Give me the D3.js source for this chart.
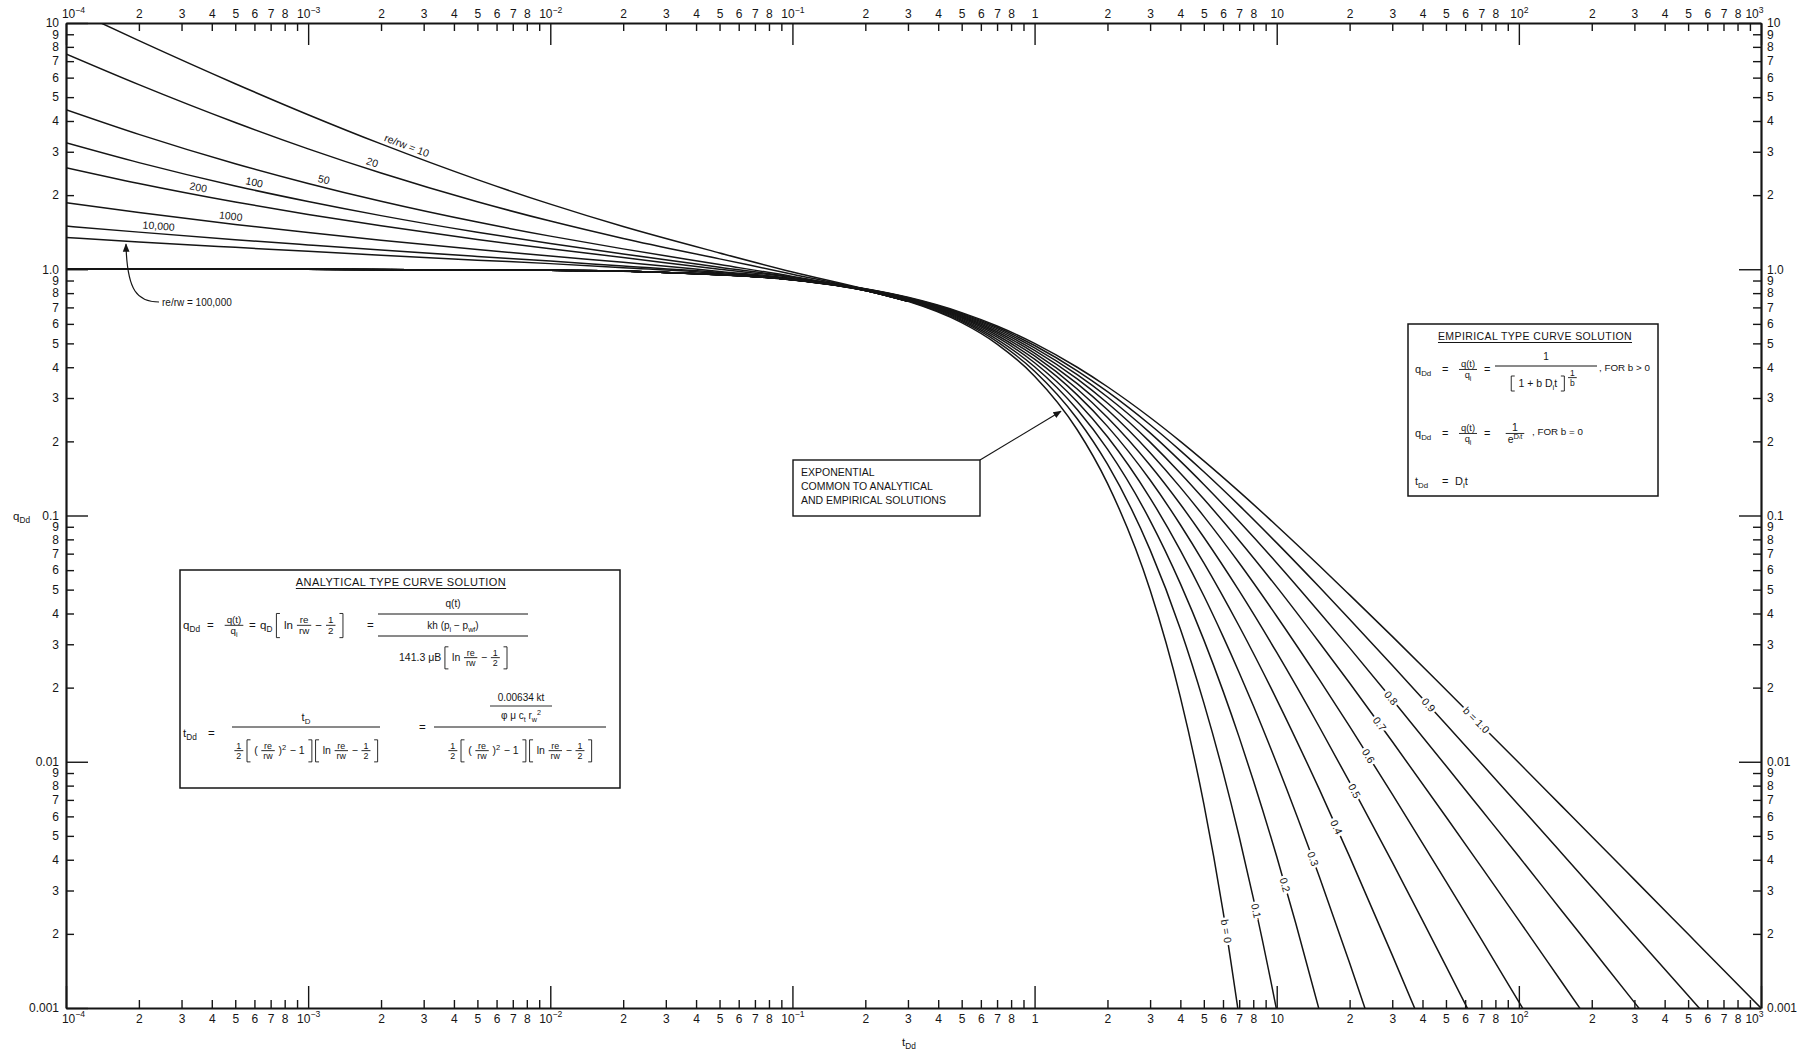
<!DOCTYPE html>
<html>
<head>
<meta charset="utf-8">
<script src="https://cdn.jsdelivr.net/npm/d3@7"></script>
<style>
  html, body { margin: 0; padding: 0; background: #fff; }
  svg { display: block; }
</style>
</head>
<body>
<svg id="chart" width="1797" height="1051"></svg>
<script>
// ---------------------------------------------------------------------------
// Decline type curves: transient (analytical) stems for several re/rw and
// Arps depletion stems for b = 0 ... 1, on log-log axes qDd versus tDd.
// ---------------------------------------------------------------------------

// Transient stems: qDd sampled at these tDd values
const stemTime = [1e-4, 2e-4, 5e-4, 1e-3, 2e-3, 5e-3, 0.01, 0.02, 0.05, 0.1, 0.2, 0.3];
const stemRe10     = [11.64, 8.480, 5.668, 4.243, 3.228, 2.312, 1.838, 1.491, 1.165, 0.975, 0.830, 0.745];
const stemRe20     = [7.488, 5.619, 3.944, 3.083, 2.459, 1.880, 1.569, 1.334, 1.102, 0.955, 0.825, 0.742];
const stemRe50     = [4.446, 3.530, 2.683, 2.231, 1.888, 1.554, 1.363, 1.210, 1.045, 0.935, 0.822, 0.741];
const stemRe100    = [3.263, 2.710, 2.179, 1.884, 1.651, 1.413, 1.272, 1.154, 1.020, 0.930, 0.821, 0.741];
const stemRe200    = [2.586, 2.231, 1.876, 1.669, 1.501, 1.321, 1.210, 1.116, 1.000, 0.925, 0.820, 0.741];
const stemRe1000   = [1.863, 1.699, 1.521, 1.409, 1.312, 1.203, 1.131, 1.067, 0.980, 0.918, 0.820, 0.741];
const stemRe10000  = [1.498, 1.415, 1.319, 1.255, 1.196, 1.127, 1.079, 1.030, 0.970, 0.912, 0.819, 0.741];
const stemRe100000 = [1.345, 1.291, 1.227, 1.182, 1.140, 1.089, 1.054, 1.015, 0.962, 0.908, 0.819, 0.741];
const stemNames = ["re/rw = 10", "20", "50", "100", "200", "1000", "10,000", "re/rw = 100,000"];
const stemLabelTime = [2.49e-3, 1.80e-3, 1.14e-3, 5.9e-4, 3.47e-4, 4.75e-4, 2.4e-4, null];

// Arps depletion stems: [tDd, qDd]
const arpsB00 = [[1e-4,0.9999],[0.001,0.999],[0.01,0.990],[0.03,0.970],[0.1,0.905],[0.2,0.819],[0.3,0.741],[0.5,0.607],[0.7,0.497],[1,0.368],[1.5,0.223],[2,0.135],[3,0.0498],[4,0.0183],[5,0.00674],[6,0.00248],[7,0.000912]];
const arpsB01 = [[1e-4,0.9999],[0.001,0.999],[0.01,0.990],[0.03,0.9705],[0.1,0.9053],[0.2,0.8203],[0.3,0.7441],[0.5,0.6139],[0.7,0.5083],[1,0.3855],[1.5,0.2472],[2,0.1615],[3,0.0725],[4,0.0346],[5,0.01734],[6,0.00910],[7,0.00496],[8,0.00280],[10,0.000977],[12,0.000377]];
const arpsB02 = [[1e-4,0.9999],[0.001,0.999],[0.01,0.990],[0.03,0.9705],[0.1,0.9057],[0.2,0.8219],[0.3,0.7473],[0.5,0.6209],[0.7,0.5194],[1,0.4019],[1.5,0.2693],[2,0.1859],[3,0.0954],[4,0.0529],[5,0.03125],[6,0.01940],[7,0.01256],[8,0.00841],[10,0.00412],[12,0.00220],[15,0.000977],[18,0.000486]];
const arpsB03 = [[1e-4,0.9999],[0.001,0.999],[0.01,0.990],[0.03,0.9706],[0.1,0.9062],[0.2,0.8235],[0.3,0.7503],[0.5,0.6276],[0.7,0.5297],[1,0.4171],[1.5,0.2898],[2,0.2087],[3,0.1177],[4,0.0722],[5,0.0472],[6,0.0323],[7,0.0230],[8,0.01692],[10,0.00984],[15,0.00341],[20,0.001524],[25,0.000798]];
const arpsB04 = [[1e-4,0.9999],[0.001,0.999],[0.01,0.990],[0.03,0.9706],[0.1,0.9066],[0.2,0.8250],[0.3,0.7533],[0.5,0.6339],[0.7,0.5395],[1,0.4312],[1.5,0.3088],[2,0.2301],[3,0.1393],[4,0.0917],[5,0.0642],[7,0.0355],[10,0.01789],[15,0.00772],[20,0.00412],[30,0.00164],[40,0.000839]];
const arpsB05 = [[1e-4,0.9999],[0.001,0.9995],[0.01,0.9901],[0.03,0.9707],[0.1,0.9070],[0.2,0.8264],[0.3,0.7561],[0.5,0.64],[0.7,0.5487],[1,0.4444],[1.5,0.3265],[2,0.25],[3,0.16],[4,0.1111],[5,0.0816],[7,0.0494],[10,0.02778],[15,0.01384],[20,0.00826],[30,0.00391],[40,0.002268],[50,0.001479],[70,0.000772]];
const arpsB06 = [[1e-4,0.9999],[0.001,0.999],[0.01,0.9901],[0.03,0.9707],[0.1,0.9074],[0.2,0.8279],[0.3,0.7589],[0.5,0.6458],[0.7,0.5574],[1,0.4569],[1.5,0.3431],[2,0.2687],[3,0.1798],[4,0.1301],[5,0.0992],[7,0.0641],[10,0.0390],[15,0.02154],[20,0.01392],[30,0.00739],[50,0.00327],[70,0.00190],[100,0.001059],[150,0.000544]];
const arpsB07 = [[1e-4,0.9999],[0.001,0.999],[0.01,0.9901],[0.03,0.9707],[0.1,0.9079],[0.2,0.8293],[0.3,0.7616],[0.5,0.6513],[0.7,0.5657],[1,0.4686],[1.5,0.3586],[2,0.2863],[3,0.1986],[4,0.1485],[5,0.1166],[7,0.0792],[10,0.0513],[15,0.0305],[20,0.02089],[30,0.01208],[50,0.00598],[70,0.00374],[100,0.00227],[150,0.001278],[200,0.000850]];
const arpsB08 = [[1e-4,0.9999],[0.001,0.999],[0.01,0.9901],[0.03,0.9708],[0.1,0.9083],[0.2,0.8307],[0.3,0.7642],[0.5,0.6567],[0.7,0.5736],[1,0.4797],[1.5,0.3732],[2,0.3029],[3,0.2166],[4,0.1663],[5,0.1337],[7,0.0945],[10,0.0642],[15,0.0405],[20,0.0290],[30,0.01789],[50,0.00963],[70,0.00638],[100,0.00412],[150,0.00249],[200,0.001743],[300,0.001054],[400,0.000736]];
const arpsB09 = [[1e-4,0.9999],[0.001,0.999],[0.01,0.9901],[0.03,0.9708],[0.1,0.9087],[0.2,0.8320],[0.3,0.7668],[0.5,0.6618],[0.7,0.5811],[1,0.4901],[1.5,0.3870],[2,0.3185],[3,0.2337],[4,0.1835],[5,0.1505],[7,0.1099],[10,0.0774],[15,0.0512],[20,0.0379],[30,0.02466],[50,0.01420],[70,0.00984],[100,0.00666],[150,0.00426],[200,0.00310],[300,0.001980],[500,0.001124],[700,0.000773]];
const arpsB10 = [[1e-4,0.9999],[0.001,0.999],[0.01,0.9901],[0.03,0.9709],[0.1,0.9091],[0.2,0.8333],[0.3,0.7692],[0.5,0.6667],[0.7,0.5882],[1,0.5],[1.5,0.4],[2,0.3333],[3,0.25],[4,0.2],[5,0.1667],[7,0.125],[10,0.0909],[15,0.0625],[20,0.0476],[30,0.0323],[50,0.0196],[70,0.01408],[100,0.0099],[150,0.00662],[200,0.004975],[300,0.003322],[500,0.001996],[700,0.001427],[1000,0.000999]];
const bNames  = ["b = 0", "0.1", "0.2", "0.3", "0.4", "0.5", "0.6", "0.7", "0.8", "0.9", "b = 1.0"];
// qDd level where each b label sits on its curve
const bLabelQ = [0.00205, 0.00248, 0.00316, 0.00403, 0.00543, 0.00761, 0.01055, 0.01423, 0.01815, 0.0170, 0.01477];

// Axis tick text
const xDecadeText = ["10^{\u22124}", "10^{\u22123}", "10^{\u22122}", "10^{\u22121}", "1", "10", "10^{2}", "10^{3}"];
const yDecadeText = ["0.001", "0.01", "0.1", "1.0", "10"];

// ---------------------------------------------------------------------------
const FONT = "'Liberation Sans', Arial, Helvetica, sans-serif";
const ink = "#151515";
const svg = d3.select("#chart").attr("font-family", FONT);
const M = { left: 66, right: 1761, top: 23, bottom: 1008 };

const x = d3.scaleLog().domain([1e-4, 1e3]).range([M.left, M.right]);
const y = d3.scaleLog().domain([1e-3, 10]).range([M.bottom, M.top]);

svg.append("rect").attr("width", 1797).attr("height", 1051).attr("fill", "#fff");

const defs = svg.append("defs");
defs.append("clipPath").attr("id", "plotClip")
  .append("rect").attr("x", M.left).attr("y", M.top)
  .attr("width", M.right - M.left).attr("height", M.bottom - M.top);
defs.append("marker").attr("id", "arrowHead")
  .attr("viewBox", "0 0 10 10").attr("refX", 9).attr("refY", 5)
  .attr("markerWidth", 7).attr("markerHeight", 7).attr("orient", "auto")
  .append("path").attr("d", "M0,1L10,5L0,9Z").attr("fill", ink);

// rich text: _{..} subscript, ^{..} superscript
function rich(textSel, str) {
  const fs = parseFloat(textSel.attr("font-size")) || 12;
  const re = /([_^])\{([^}]*)\}|([^_^]+)/g;
  let m, cur = 0;
  while ((m = re.exec(str))) {
    const shift = m[3] !== undefined ? 0 : (m[1] === "_" ? 1 : -1);
    const s = m[3] !== undefined ? m[3] : m[2];
    const target = shift === 1 ? fs * 0.3 : shift === -1 ? -fs * 0.42 : 0;
    const ts = textSel.append("tspan").text(s);
    if (target !== cur) ts.attr("dy", target - cur);
    if (shift) ts.attr("font-size", fs * 0.72);
    cur = target;
  }
  return textSel;
}

const expOf = v => Math.floor(Math.log10(v) + 1e-9);
const mantOf = v => Math.round(v / Math.pow(10, expOf(v)));
const xText = v => mantOf(v) === 1 ? xDecadeText[expOf(v) + 4] : (mantOf(v) === 9 ? "" : String(mantOf(v)));
const yText = v => mantOf(v) === 1 ? yDecadeText[expOf(v) + 3] : String(mantOf(v));

// ---------------------------------------------------------------------------
// curves
const line = d3.line().x(d => x(d[0])).y(d => y(d[1])).curve(d3.curveMonotoneX);
const curveLayer = svg.append("g").attr("clip-path", "url(#plotClip)")
  .attr("fill", "none").attr("stroke", ink).attr("stroke-width", 1.5)
  .attr("stroke-linejoin", "round");

const stemSeries = [stemRe10, stemRe20, stemRe50, stemRe100, stemRe200, stemRe1000, stemRe10000, stemRe100000];
const stemPaths = stemSeries.map(vals =>
  curveLayer.append("path").attr("d", line(stemTime.map((t, i) => [t, vals[i]]))).node());

const arpsSeries = [arpsB00, arpsB01, arpsB02, arpsB03, arpsB04, arpsB05, arpsB06, arpsB07, arpsB08, arpsB09, arpsB10];
const arpsPaths = arpsSeries.map(pts => curveLayer.append("path").attr("d", line(pts)).node());

// locate points along a path
function lenAt(node, target, key) {
  let lo = 0, hi = node.getTotalLength();
  for (let i = 0; i < 40; i++) {
    const mid = (lo + hi) / 2;
    if (node.getPointAtLength(mid)[key] < target) lo = mid; else hi = mid;
  }
  return (lo + hi) / 2;
}
function frameAt(node, L) {
  const p = node.getPointAtLength(L);
  const a = node.getPointAtLength(Math.max(0, L - 3));
  const b = node.getPointAtLength(Math.min(node.getTotalLength(), L + 3));
  return { x: p.x, y: p.y, ang: Math.atan2(b.y - a.y, b.x - a.x) * 180 / Math.PI };
}

// stem labels, sitting just above their lines
const labelLayer = svg.append("g").attr("fill", ink);
stemNames.forEach((name, i) => {
  if (stemLabelTime[i] == null) return;
  const f = frameAt(stemPaths[i], lenAt(stemPaths[i], x(stemLabelTime[i]), "x"));
  labelLayer.append("text")
    .attr("transform", `translate(${f.x},${f.y}) rotate(${f.ang})`)
    .attr("y", -4).attr("text-anchor", "middle").attr("font-size", 10.5)
    .text(name);
});

// b labels, set into their lines
bNames.forEach((name, i) => {
  const f = frameAt(arpsPaths[i], lenAt(arpsPaths[i], y(bLabelQ[i]), "y"));
  labelLayer.append("text")
    .attr("transform", `translate(${f.x},${f.y}) rotate(${f.ang})`)
    .attr("dy", "0.35em").attr("text-anchor", "middle").attr("font-size", 10.5)
    .attr("stroke", "#fff").attr("stroke-width", 5).attr("paint-order", "stroke")
    .text(name);
});

// re/rw = 100,000 callout
{
  const f = frameAt(stemPaths[7], lenAt(stemPaths[7], 126, "x"));
  svg.append("path")
    .attr("d", `M159,302 C138,302 ${f.x + 1},292 ${f.x},${f.y + 3}`)
    .attr("fill", "none").attr("stroke", ink).attr("stroke-width", 1.2)
    .attr("marker-end", "url(#arrowHead)");
  svg.append("text").attr("x", 162).attr("y", 306).attr("font-size", 10).attr("fill", ink)
    .text(stemNames[7]);
}

// ---------------------------------------------------------------------------
// axes (ticks point inward on all four sides)
const xTicks = x.ticks();
const yTicks = y.ticks();
const xLo = x.domain()[0], xHi = x.domain()[1];

function drawAxis(gen, transform, labelFn, decAttr, decLen, nudge) {
  const g = svg.append("g").attr("transform", transform)
    .call(gen.tickFormat(() => ""))
    .attr("font-family", FONT);
  g.select(".domain").attr("stroke", ink).attr("stroke-width", 2.2);
  g.selectAll(".tick line").attr("stroke", ink).attr("stroke-width", 1.4)
    .filter(d => mantOf(d) === 1).attr(decAttr, decLen);
  g.selectAll(".tick text").attr("font-size", 12).attr("fill", ink)
    .each(function (d) {
      const t = d3.select(this).text(null);
      rich(t, labelFn(d));
      if (nudge) t.attr("x", nudge(d));
    });
  return g;
}
// corner labels of the time axes sit just inside the frame corners
const cornerNudge = d => d === xLo ? 7 : d === xHi ? -7 : 0;
drawAxis(d3.axisTop(x).tickValues(xTicks).tickSizeInner(-8).tickSizeOuter(0).tickPadding(5),
  `translate(0,${M.top})`, xText, "y2", 22, cornerNudge);
drawAxis(d3.axisBottom(x).tickValues(xTicks).tickSizeInner(-8).tickSizeOuter(0).tickPadding(6),
  `translate(0,${M.bottom})`, xText, "y2", -22, cornerNudge);
drawAxis(d3.axisLeft(y).tickValues(yTicks).tickSizeInner(-8).tickSizeOuter(0).tickPadding(7),
  `translate(${M.left},0)`, yText, "x2", 22);
drawAxis(d3.axisRight(y).tickValues(yTicks).tickSizeInner(-8).tickSizeOuter(0).tickPadding(6),
  `translate(${M.right},0)`, yText, "x2", -22);

// axis titles
rich(svg.append("text").attr("x", 902).attr("y", 1046).attr("font-size", 11.5).attr("fill", ink), "t_{Dd}");
rich(svg.append("text").attr("x", 13).attr("y", 520).attr("font-size", 11.5).attr("fill", ink), "q_{Dd}");

// ---------------------------------------------------------------------------
// formula boxes
function row(g, x0, base, items, fs) {
  let cx = x0, last = 0;
  items.forEach(it => {
    if (typeof it === "string") {
      const t = g.append("text").attr("x", cx).attr("y", base).attr("font-size", fs);
      rich(t, it);
      last = fs * 0.35;
      cx += t.node().getComputedTextLength() + last;
    } else if (it.gap !== undefined) {
      cx += it.gap; last = 0;
    } else if (it.f) {
      const s = it.s || fs * 0.85;
      const axis = base - fs * 0.32 + (it.dy || 0);
      const n = g.append("text").attr("y", axis - 2).attr("font-size", s).attr("text-anchor", "middle");
      rich(n, it.f[0]);
      const d = g.append("text").attr("y", axis + 2 + s * 0.72).attr("font-size", s).attr("text-anchor", "middle");
      rich(d, it.f[1]);
      const w = Math.max(n.node().getComputedTextLength(), d.node().getComputedTextLength()) + 4;
      n.attr("x", cx + w / 2); d.attr("x", cx + w / 2);
      g.append("line").attr("x1", cx).attr("x2", cx + w).attr("y1", axis).attr("y2", axis)
        .attr("stroke", ink).attr("stroke-width", 0.9);
      last = fs * 0.35;
      cx += w + last;
    } else if (it.br) {
      const up = it.up || fs * 1.35, dn = it.dn || fs * 0.75;
      const open = it.br === "[";
      const a = open ? cx + 3.5 : cx, b = open ? cx : cx + 3.5;
      g.append("path").attr("d", `M${a},${base - up}H${b}V${base + dn}H${a}`)
        .attr("fill", "none").attr("stroke", ink).attr("stroke-width", 0.9);
      last = fs * 0.35;
      cx += 3.5 + last;
    }
  });
  return cx - last;
}
function centeredRow(g, cxm, base, items, fs) {
  const gg = g.append("g");
  const end = row(gg, 0, base, items, fs);
  gg.attr("transform", `translate(${cxm - end / 2},0)`);
  return end;
}
function put(g, x0, base, str, fs, anchor) {
  return rich(g.append("text").attr("x", x0).attr("y", base).attr("font-size", fs)
    .attr("text-anchor", anchor || "start"), str);
}
function title(g, cxm, base, str, fs) {
  const t = g.append("text").attr("x", cxm).attr("y", base).attr("font-size", fs)
    .attr("text-anchor", "middle").attr("letter-spacing", 0.4).text(str);
  const w = t.node().getComputedTextLength();
  g.append("line").attr("x1", cxm - w / 2).attr("x2", cxm + w / 2)
    .attr("y1", base + 2.5).attr("y2", base + 2.5).attr("stroke", ink).attr("stroke-width", 1);
}
function hbar(g, x1, x2, yy, sw) {
  g.append("line").attr("x1", x1).attr("x2", x2).attr("y1", yy).attr("y2", yy)
    .attr("stroke", ink).attr("stroke-width", sw || 1);
}

const half = { f: ["1", "2"] };
const reRw = { f: ["re", "rw"] };
const lnTerm = [{ br: "[" }, "ln", reRw, "\u2212", half, { br: "]" }];
const denomTerm = [half, { br: "[" }, "(", reRw, ")^{2}", "\u2212 1", { br: "]" }, ...lnTerm];

// analytical solution box
const ab = svg.append("g").attr("fill", ink);
ab.append("rect").attr("x", 180).attr("y", 570).attr("width", 440).attr("height", 218)
  .attr("fill", "#fff").attr("stroke", ink).attr("stroke-width", 1.5);
title(ab, 401, 586, "ANALYTICAL TYPE CURVE SOLUTION", 11);
put(ab, 183, 629, "q_{Dd}", 11.5);
put(ab, 207, 629, "=", 11.5);
centeredRow(ab, 234, 629, [{ f: ["q(t)", "q_{i}"] }], 11.5);
put(ab, 249, 629, "=", 11.5);
row(ab, 260, 629, ["q_{D}", ...lnTerm], 11.5);
put(ab, 367, 629, "=", 11.5);
put(ab, 453, 607, "q(t)", 10, "middle");
hbar(ab, 378, 528, 614);
put(ab, 453, 629, "kh (p_{i} \u2212 p_{wf})", 10, "middle");
hbar(ab, 378, 528, 636);
centeredRow(ab, 453, 661, ["141.3 \u03bcB", ...lnTerm], 10.5);

put(ab, 183, 737, "t_{Dd}", 11.5);
put(ab, 208, 737, "=", 11.5);
put(ab, 306, 721, "t_{D}", 11, "middle");
hbar(ab, 232, 380, 727);
centeredRow(ab, 306, 754, denomTerm, 10.5);
put(ab, 419, 731, "=", 11.5);
put(ab, 521, 701, "0.00634 kt", 10, "middle");
hbar(ab, 490, 552, 706, 0.9);
put(ab, 521, 719, "\u03c6 \u03bc c_{t} r_{w}^{2}", 10, "middle");
hbar(ab, 434, 606, 727);
centeredRow(ab, 520, 754, denomTerm, 10.5);

// empirical solution box
const eb = svg.append("g").attr("fill", ink);
eb.append("rect").attr("x", 1408).attr("y", 324).attr("width", 250).attr("height", 172)
  .attr("fill", "#fff").attr("stroke", ink).attr("stroke-width", 1.5);
title(eb, 1535, 340, "EMPIRICAL TYPE CURVE SOLUTION", 10.5);
put(eb, 1415, 373, "q_{Dd}", 11);
put(eb, 1442, 373, "=", 11);
centeredRow(eb, 1468, 373, [{ f: ["q(t)", "q_{i}"] }], 11);
put(eb, 1484, 373, "=", 11);
put(eb, 1546, 360, "1", 10, "middle");
hbar(eb, 1495, 1597, 366);
centeredRow(eb, 1544, 387, [{ br: "[", up: 11, dn: 4 }, "1 + b D_{i}t", { br: "]", up: 11, dn: 4 }, { f: ["1", "b"], s: 8.5, dy: -6 }], 10.5);
put(eb, 1599, 371, ", FOR b > 0", 9.8);
put(eb, 1415, 437, "q_{Dd}", 11);
put(eb, 1442, 437, "=", 11);
centeredRow(eb, 1468, 437, [{ f: ["q(t)", "q_{i}"] }], 11);
put(eb, 1484, 437, "=", 11);
centeredRow(eb, 1515, 437, [{ f: ["1", "e^{D\u1d62t}"], s: 10.5 }], 11);
put(eb, 1532, 435, ", FOR b = 0", 9.8);
put(eb, 1415, 485, "t_{Dd}", 11);
put(eb, 1442, 485, "=", 11);
put(eb, 1455, 485, "D_{i}t", 11);

// exponential callout
{
  const xb = svg.append("g").attr("fill", ink);
  xb.append("rect").attr("x", 793).attr("y", 460).attr("width", 187).attr("height", 56)
    .attr("fill", "#fff").attr("stroke", ink).attr("stroke-width", 1.4);
  ["EXPONENTIAL", "COMMON TO ANALYTICAL", "AND EMPIRICAL SOLUTIONS"].forEach((s, i) =>
    xb.append("text").attr("x", 801).attr("y", 476 + i * 14).attr("font-size", 10.5).text(s));
  const f = frameAt(arpsPaths[0], lenAt(arpsPaths[0], 1063, "x"));
  svg.append("line").attr("x1", 980).attr("y1", 460).attr("x2", f.x - 2).attr("y2", f.y + 2)
    .attr("stroke", ink).attr("stroke-width", 1.2).attr("marker-end", "url(#arrowHead)");
}
</script>
</body>
</html>
